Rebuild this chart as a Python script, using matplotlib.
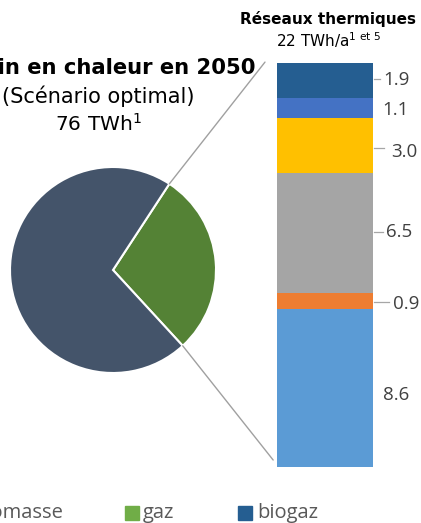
import matplotlib.pyplot as plt
import numpy as np
from matplotlib.patches import ConnectionPatch, Rectangle

# -- data ---------------------------------------------------------------
pie_labels = ["Réseaux thermiques", "Autres"]
pie_values = [22, 54]
pie_colors = ["#548235", "#44546A"]

bar_labels = ["8.6", "0.9", "6.5", "3.0", "1.1", "1.9"]   # bottom -> top
bar_values = [8.6, 0.9, 6.5, 3.0, 1.1, 1.9]
bar_colors = ["#5B9BD5", "#ED7D31", "#A5A5A5", "#FFC000", "#4472C4", "#255E91"]

legend_labels = ["biomasse", "gaz", "biogaz"]
legend_colors = ["#44546A", "#70AD47", "#255E91"]

W, H = 421, 523


def px(x, y):
    """pixel position (from top-left) -> figure fraction"""
    return x / W, 1 - y / H


fig = plt.figure(figsize=(W / 100, H / 100), dpi=100)

# -- pie ----------------------------------------------------------------
cx, cy, r = 113, 270, 103
ax_pie = fig.add_axes([(cx - r) / W, (H - cy - r) / H, 2 * r / W, 2 * r / H])
start = -47.4
ax_pie.pie(pie_values, colors=pie_colors, startangle=start, counterclock=True,
           wedgeprops=dict(edgecolor="white", linewidth=1.5))
ax_pie.set_xlim(-1, 1)
ax_pie.set_ylim(-1, 1)
ax_pie.axis("off")

# -- stacked bar --------------------------------------------------------
bx0, bx1, by0, by1 = 277, 373, 63, 467
ax_bar = fig.add_axes([bx0 / W, (H - by1) / H, (bx1 - bx0) / W, (by1 - by0) / H])
bottom = 0
for val, col in zip(bar_values, bar_colors):
    ax_bar.bar(0, val, bottom=bottom, width=1, color=col, edgecolor="none")
    bottom += val
total = bottom
ax_bar.set_xlim(-0.5, 0.5)
ax_bar.set_ylim(0, total)
ax_bar.axis("off")

# label layout (pixels): text left x, text dy, leader end x (0 = none), leader dy
text_x = [383, 393, 386, 391, 382, 383]
text_dy = [6.5, 3, -1, 6, 2, 0]
lead_x = [0, 389, 383, 384, 0, 380]
lead_dy = [0, 1, -1, 2, 0, -1]
ppu = (by1 - by0) / total
bottom = 0
for i, (lab, val) in enumerate(zip(bar_labels, bar_values)):
    ypx = by1 - (bottom + val / 2) * ppu
    if lead_x[i]:
        yl = ypx + lead_dy[i]
        fig.add_artist(plt.Line2D([(bx1 + 1) / W, lead_x[i] / W],
                                  [1 - yl / H] * 2, color="#A6A6A6", lw=0.9))
    fig.text(*px(text_x[i], ypx + text_dy[i]), lab, fontsize=13.5, color="#404040",
             family="Open Sans", va="center", ha="left")
    bottom += val

# -- connector lines ----------------------------------------------------
a_top = np.deg2rad(start + 360 * pie_values[0] / sum(pie_values))
a_bot = np.deg2rad(start)
for ang, (tx, ty) in [(a_top, (-0.625, total + 0.05)), (a_bot, (-0.54, 0.38))]:
    con = ConnectionPatch(xyA=(np.cos(ang), np.sin(ang)), coordsA=ax_pie.transData,
                          xyB=(tx, ty), coordsB=ax_bar.transData,
                          color="#A0A0A0", lw=1.0)
    fig.add_artist(con)

# -- titles -------------------------------------------------------------
fig.text(*px(98, 68), "Besoin en chaleur en 2050", fontsize=15.2, fontweight="bold",
         ha="center", va="center", color="black")
fig.text(*px(98, 96), "(Scénario optimal)", fontsize=15, ha="center", va="center",
         color="black")
fig.text(*px(98, 124), r"76 TWh$^{1}$", fontsize=14.5, ha="center", va="center",
         color="black")
fig.text(*px(328, 19), "Réseaux thermiques", fontsize=11, fontweight="bold",
         ha="center", va="center", color="black")
fig.text(*px(329, 40), r"22 TWh/a$^{\mathregular{1\ et\ 5}}$", fontsize=11,
         ha="center", va="center", color="black")

# -- legend (cut off on the left) ---------------------------------------
sq_x = [-60, 125, 238]      # square left edge in px
txt_x = [63, 143, 257]      # first one is right-aligned
for i, (lab, col) in enumerate(zip(legend_labels, legend_colors)):
    fig.add_artist(Rectangle(px(sq_x[i], 520), 14 / W, 14 / H, color=col,
                             transform=fig.transFigure))
    fig.text(*px(txt_x[i], 513), lab, fontsize=14.5, color="#595959",
             family="Open Sans", ha="right" if i == 0 else "left", va="center")

fig.savefig("out.png", dpi=100)
